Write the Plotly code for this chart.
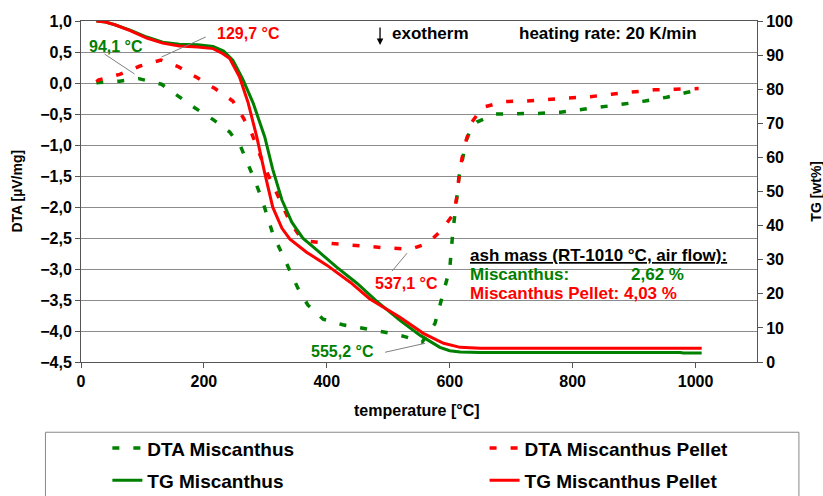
import plotly.graph_objects as go

# ---------------- data ----------------
dta_m_t = [25, 30, 63, 94, 131, 157, 185, 215, 242, 260, 273, 284, 295, 304, 313, 327, 340, 353, 369, 394,
           426, 462, 495, 527, 555, 576, 584, 593, 600, 605, 609, 612, 615, 621, 627, 634, 644, 674, 710,
           744, 780, 814, 849, 883, 918, 953, 987, 1005]
dta_m_v = [0.00, 0.01, 0.03, 0.07, -0.02, -0.21, -0.40, -0.59, -0.79, -1.03, -1.32, -1.60, -1.89, -2.18,
           -2.46, -2.75, -3.02, -3.31, -3.58, -3.81, -3.90, -3.96, -4.02, -4.09, -4.18, -3.88, -3.58, -3.29,
           -3.00, -2.41, -2.10, -1.81, -1.52, -1.21, -0.92, -0.75, -0.63, -0.50, -0.50, -0.49, -0.47, -0.43,
           -0.39, -0.34, -0.29, -0.23, -0.15, -0.11]

dta_p_t = [25, 29, 63, 95, 130, 159, 190, 218, 247, 264, 278, 290, 301, 314, 327, 340, 356, 370, 394, 429,
           462, 495, 537, 565, 587, 607, 612, 615, 620, 627, 636, 654, 689, 724, 759, 793, 829, 863, 899,
           933, 967, 1005]
dta_p_v = [0.02, 0.05, 0.14, 0.27, 0.37, 0.26, 0.08, -0.09, -0.29, -0.56, -0.82, -1.11, -1.41, -1.68, -1.95,
           -2.24, -2.47, -2.55, -2.58, -2.60, -2.63, -2.66, -2.68, -2.58, -2.37, -2.10, -1.81, -1.52, -1.21,
           -0.92, -0.63, -0.39, -0.30, -0.29, -0.27, -0.25, -0.22, -0.18, -0.14, -0.11, -0.10, -0.09]

tg_m_t = [25, 40, 55, 80, 107, 133, 160, 190, 215, 232, 247, 263, 280, 299, 312, 327, 343, 361, 384, 416,
          449, 480, 519, 552, 584, 600, 617, 650, 975, 980, 1010]
tg_m_v = [100, 99.7, 98.9, 97.3, 95.3, 93.8, 93.2, 93.0, 92.5, 91.2, 88.5, 83.0, 76.0, 66.0, 56.5, 47.5,
          41.0, 36.3, 32.8, 27.8, 23.1, 18.0, 12.2, 7.8, 4.3, 3.3, 2.9, 2.8, 2.8, 2.62, 2.62]

tg_p_t = [25, 40, 55, 80, 107, 133, 160, 190, 215, 231, 242, 258, 272, 286, 299, 312, 327, 340, 367, 400,
          438, 470, 519, 557, 590, 617, 650, 795, 800, 1010]
tg_p_v = [100, 99.7, 98.9, 97.2, 95.0, 93.5, 92.7, 92.4, 91.9, 90.4, 89.0, 83.6, 76.0, 66.0, 55.4, 45.4,
          39.2, 36.0, 32.2, 28.4, 23.4, 18.5, 13.1, 8.4, 5.5, 4.3, 4.0, 3.95, 4.05, 4.03]

x_ticks = [0, 200, 400, 600, 800, 1000]

GREEN = "#008000"
RED = "#FF0000"
FONT = "Liberation Sans, Arial, sans-serif"
DASH = "7px,14px"

fig = go.Figure()
fig.add_trace(go.Scatter(x=dta_m_t, y=dta_m_v, name="DTA Miscanthus", mode="lines", showlegend=True,
                         line=dict(color=GREEN, width=3.5, dash=DASH), legend="legend"))
fig.add_trace(go.Scatter(x=dta_p_t, y=dta_p_v, name="DTA Miscanthus Pellet", mode="lines", showlegend=True,
                         line=dict(color=RED, width=3.5, dash=DASH), legend="legend2"))
fig.add_trace(go.Scatter(x=tg_m_t, y=tg_m_v, name="TG Miscanthus", mode="lines", yaxis="y2", showlegend=True,
                         line=dict(color=GREEN, width=3), legend="legend3"))
fig.add_trace(go.Scatter(x=tg_p_t, y=tg_p_v, name="TG Miscanthus Pellet", mode="lines", yaxis="y2",
                         showlegend=True, line=dict(color=RED, width=3), legend="legend4"))

tickfont = dict(family=FONT, size=16, color="black", weight="bold")
axcol = "#555555"
lfont = dict(family=FONT, size=19, color="black", weight="bold")

def leg(x, y):
    return dict(orientation="h", x=x, xanchor="left", y=y, yanchor="middle",
                bgcolor="rgba(0,0,0,0)", font=lfont, borderwidth=0)

fig.update_layout(
    width=823, height=496, showlegend=True,
    margin=dict(l=81, r=66, t=21, b=134, autoexpand=False),
    paper_bgcolor="white", plot_bgcolor="white",
    separators=",.",
    font=dict(family=FONT, color="black"),
    xaxis=dict(range=[0, 1100], tickvals=x_ticks, showgrid=False, zeroline=False,
               showline=True, linecolor=axcol, linewidth=1, mirror=True,
               ticks="outside", ticklen=5, tickcolor=axcol, tickfont=tickfont),
    yaxis=dict(range=[-4.5, 1.0], dtick=0.5, tickformat=".1f", showgrid=True,
               gridcolor="#8c8c8c", gridwidth=1, zeroline=False,
               showline=True, linecolor=axcol, linewidth=1,
               ticks="outside", ticklen=5, tickcolor=axcol, tickfont=tickfont),
    yaxis2=dict(range=[0, 100], dtick=10, overlaying="y", side="right", showgrid=False,
                zeroline=False, showline=True, linecolor=axcol, linewidth=1,
                ticks="outside", ticklen=5, tickcolor=axcol, tickfont=tickfont),
    legend=leg(0.039, -0.253),
    legend2=leg(0.597, -0.253),
    legend3=leg(0.039, -0.347),
    legend4=leg(0.597, -0.347),
)

# legend frame
fig.add_shape(type="rect", xref="paper", yref="paper", x0=-0.0526, x1=1.062, y0=-0.206, y1=-0.42,
              line=dict(color="#888888", width=1), fillcolor="rgba(0,0,0,0)", layer="below")

# leader lines
for (x0, y0, x1, y1) in [(38.3, 0.467, 87.2, 0.145), (203, 0.742, 131, 0.419),
                         (506, -3.036, 530.5, -2.745), (494.7, -4.343, 560, -4.198)]:
    fig.add_shape(type="line", xref="x", yref="y", x0=x0, y0=y0, x1=x1, y1=y1,
                  line=dict(color="#808080", width=1))

def ann(text, x, y, color="black", xanchor="center", xref="x", yref="y", size=17, **kw):
    fig.add_annotation(text=text, x=x, y=y, xref=xref, yref=yref, showarrow=False,
                       xanchor=xanchor, yanchor="middle",
                       font=dict(family=FONT, size=size, weight="bold", color=color), **kw)

ann("94,1 °C", 57, 0.596, GREEN, size=16)
ann("129,7 °C", 273, 0.806, RED, size=16)
ann("537,1 °C", 529, -3.229, RED, size=16)
ann("555,2 °C", 426, -4.327, GREEN, size=16)
ann("exotherm", 502.8, 0.806, "black", xanchor="left")
ann("heating rate: 20 K/min", 709.9, 0.806, "black", xanchor="left")
ann("<u>ash mass (RT-1010 °C, air flow):</u>", 630, -2.777, "black", xanchor="left")
ann("Miscanthus:", 630, -3.084, GREEN, xanchor="left")
ann("2,62 %", 892.4, -3.084, GREEN, xanchor="left")
ann("Miscanthus Pellet: 4,03 %", 630, -3.39, RED, xanchor="left")

# exotherm arrow
fig.add_annotation(x=486.6, y=0.613, xref="x", yref="y", ax=0, ay=-19, text="", showarrow=True,
                   arrowhead=2, arrowsize=1, arrowwidth=1.3, arrowcolor="black")

# axis titles
ann("DTA [µV/mg]", -0.094, 0.501, "black", xref="paper", yref="paper", size=14, textangle=-90)
ann("TG [wt%]", 1.086, 0.5, "black", xref="paper", yref="paper", size=14, textangle=-90)
ann("temperature [°C]", 0.4967, -0.142, "black", xref="paper", yref="paper", size=16)

fig.write_html("out.html", config={"displayModeBar": False},
               post_script="document.body.style.margin='0px';")
